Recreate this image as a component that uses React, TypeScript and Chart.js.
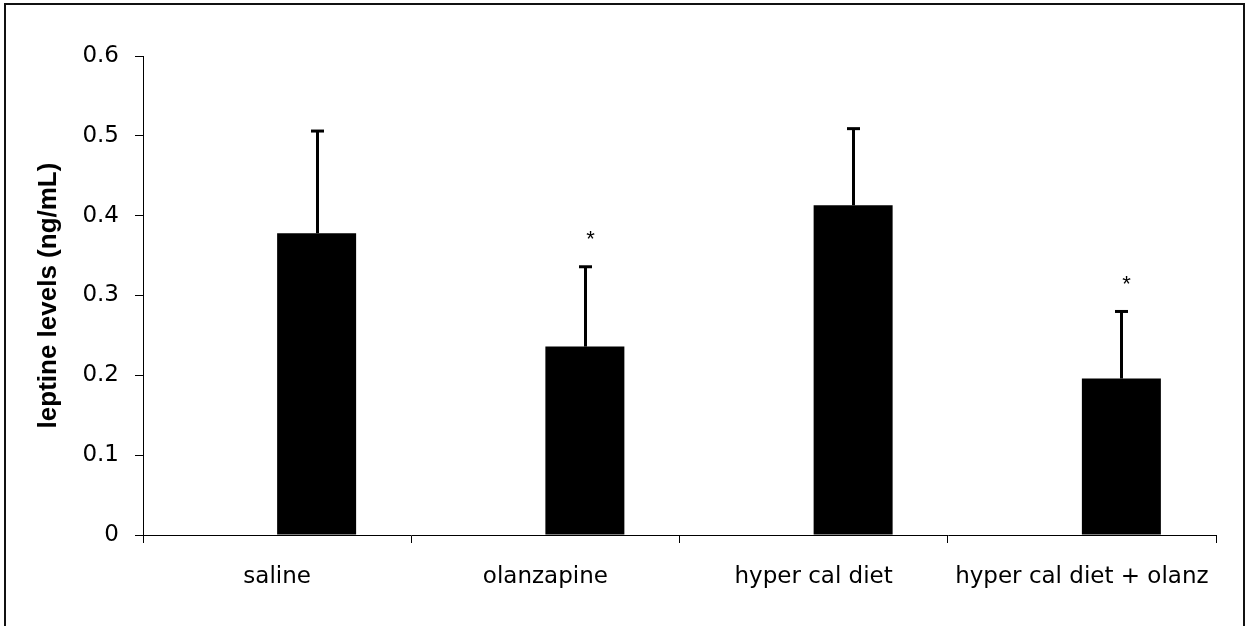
import React, { useEffect, useRef } from "react";
import { Chart, registerables } from "chart.js";

Chart.register(...registerables);

const categories = ["saline", "olanzapine", "hyper cal diet", "hyper cal diet + olanz"];
const leptinMeans = [0.378, 0.236, 0.413, 0.196];
const leptinErrors = [0.128, 0.100, 0.096, 0.084];
const significant = [false, true, false, true];
const yTickLabels = ["0", "0.1", "0.2", "0.3", "0.4", "0.5", "0.6"];

const framePlugin = {
  id: "frame",
  beforeDraw(chart: any) {
    const ctx = chart.ctx;
    ctx.save();
    ctx.fillStyle = "#ffffff";
    ctx.fillRect(0, 0, chart.width, chart.height);
    ctx.strokeStyle = "#111111";
    ctx.lineWidth = 2;
    ctx.strokeRect(5, 4, 1239, 640);
    ctx.restore();
  },
};

const errorBarPlugin = {
  id: "errorBars",
  afterDatasetsDraw(chart: any) {
    const ctx = chart.ctx;
    const meta = chart.getDatasetMeta(1);
    const y = chart.scales.y;
    ctx.save();
    ctx.strokeStyle = "#000000";
    ctx.fillStyle = "#000000";
    meta.data.forEach((bar: any, i: number) => {
      const x = Math.round(bar.x) + 0.5;
      const y0 = y.getPixelForValue(leptinMeans[i]);
      const y1 = y.getPixelForValue(leptinMeans[i] + leptinErrors[i]);
      ctx.lineWidth = 3;
      ctx.beginPath();
      ctx.moveTo(x, y0);
      ctx.lineTo(x, y1);
      ctx.stroke();
      ctx.beginPath();
      ctx.moveTo(x - 6.5, y1);
      ctx.lineTo(x + 6.5, y1);
      ctx.stroke();
      if (significant[i]) {
        ctx.font = "22px 'Liberation Sans', Arial, sans-serif";
        ctx.textAlign = "center";
        ctx.textBaseline = "alphabetic";
        ctx.fillText("*", x + 5, y1 - 33 + 12.5);
      }
    });
    ctx.restore();
  },
};

export default function App() {
  const canvasRef = useRef<HTMLCanvasElement | null>(null);

  useEffect(() => {
    if (!canvasRef.current) return;
    const chart = new Chart(canvasRef.current, {
      type: "bar",
      data: {
        labels: categories,
        datasets: [
          { label: "spacer", data: categories.map(() => null), backgroundColor: "#000000" },
          { label: "leptine", data: leptinMeans, backgroundColor: "#000000", borderWidth: 0 },
        ],
      },
      options: {
        animation: false,
        responsive: false,
        devicePixelRatio: 1,
        layout: { padding: { top: 56, right: 36, bottom: 0, left: 0 } },
        plugins: { legend: { display: false }, tooltip: { enabled: false } },
        datasets: { bar: { categoryPercentage: 0.589, barPercentage: 1 } },
        scales: {
          x: {
            afterFit(scale: any) {
              scale.height = 91;
            },
            grid: {
              display: true,
              drawOnChartArea: false,
              drawTicks: true,
              tickLength: 8,
              color: "#000000",
              offset: true,
            },
            border: { display: true, color: "#000000", width: 1 },
            ticks: {
              color: "#000000",
              padding: 20,
              maxRotation: 0,
              autoSkip: false,
              font: { family: "'DejaVu Sans'", size: 23 },
            },
          },
          y: {
            min: 0,
            max: 0.6,
            afterFit(scale: any) {
              scale.width = 143;
            },
            grid: {
              display: true,
              drawOnChartArea: false,
              drawTicks: true,
              tickLength: 8,
              color: "#000000",
            },
            border: { display: true, color: "#000000", width: 1 },
            ticks: {
              stepSize: 0.1,
              color: "#000000",
              padding: 16,
              font: { family: "'DejaVu Sans'", size: 23 },
              callback: (_v: any, i: number) => yTickLabels[i],
            },
            title: {
              display: true,
              text: "leptine levels (ng/mL)",
              color: "#000000",
              padding: { top: 33, bottom: 0 },
              font: { family: "'Liberation Sans', Arial, sans-serif", size: 26, weight: "bold" },
            },
          },
        },
      },
      plugins: [framePlugin, errorBarPlugin],
    });
    return () => chart.destroy();
  }, []);

  return (
    <div style={{ position: "absolute", left: 0, top: 0, width: 1252, height: 626 }}>
      <canvas ref={canvasRef} width={1252} height={626} style={{ width: 1252, height: 626, display: "block" }} />
    </div>
  );
}
